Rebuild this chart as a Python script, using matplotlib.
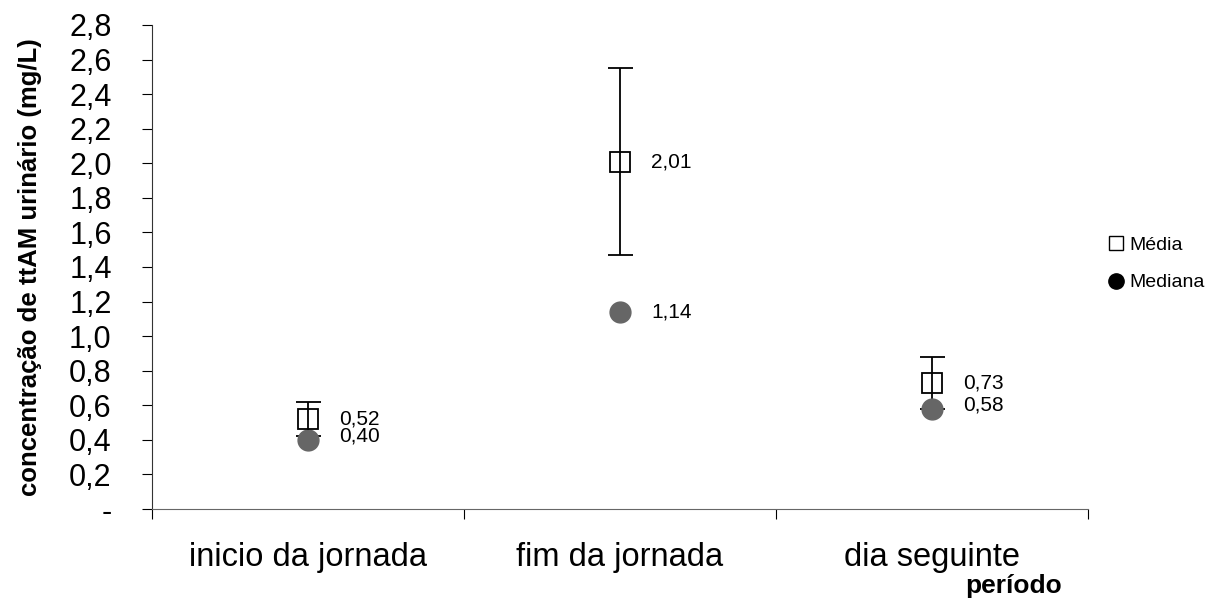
import matplotlib
matplotlib.use('Agg')
import matplotlib.pyplot as plt
from matplotlib.ticker import FixedLocator
from matplotlib.lines import Line2D

plt.rcParams['font.family'] = ['Liberation Sans', 'DejaVu Sans']

# data
periods = ["inicio da jornada", "fim da jornada", "dia seguinte"]
media = [0.52, 2.01, 0.73]
media_err = [0.10, 0.54, 0.15]
mediana = [0.40, 1.14, 0.58]
yticks = [0, 0.2, 0.4, 0.6, 0.8, 1.0, 1.2, 1.4, 1.6, 1.8, 2.0, 2.2, 2.4, 2.6, 2.8]

fig = plt.figure(figsize=(12.31, 5.98), dpi=100)
ax = fig.add_axes([152/1231, 1-509/598, (1088-152)/1231, (509-25)/598])

x = [0.5, 1.5, 2.5]
ax.errorbar(x, media, yerr=media_err, fmt='none', ecolor='black', elinewidth=1.3,
            capsize=9, capthick=1.3, zorder=2)
ax.plot(x, mediana, 'o', color='#666666', markersize=15, linestyle='none', zorder=3)
ax.plot(x, media, 's', markerfacecolor='none', markeredgecolor='black',
        markersize=14, markeredgewidth=1.3, linestyle='none', zorder=4)

for xi, v in zip(x, media):
    ax.text(xi + 0.1, v, ("%.2f" % v).replace('.', ','), fontsize=15,
            va='center', ha='left')
for xi, v in zip(x, mediana):
    ax.text(xi + 0.1, v + (0.02 if v < 1 else 0), ("%.2f" % v).replace('.', ','),
            fontsize=15, va='center', ha='left')

ax.set_xlim(0, 3)
ax.set_ylim(0, 2.8)
ax.set_yticks(yticks)
ax.set_yticklabels(['-'] + [("%.1f" % t).replace('.', ',') for t in yticks[1:]],
                   fontsize=22)
ax.xaxis.set_major_locator(FixedLocator([0, 1, 2, 3]))
ax.set_xticklabels([])
ax.xaxis.set_minor_locator(FixedLocator(x))
ax.set_xticklabels(periods, minor=True, fontsize=23.5)
ax.tick_params(axis='x', which='minor', length=0, pad=24)
ax.tick_params(axis='x', which='major', length=7, width=0.8, direction='out')
ax.tick_params(axis='y', length=7, width=0.8, pad=22)

for s in ['top', 'right']:
    ax.spines[s].set_visible(False)
ax.spines['left'].set_color('#333333')
ax.spines['bottom'].set_color('#666666')

ax.set_ylabel("concentração de ttAM urinário (mg/L)", fontsize=18.5,
              fontweight='bold')
ax.yaxis.set_label_coords(-(152-42)/936, 0.5)
fig.text(1014/1231, 1-586/598, "período", fontsize=19, fontweight='bold',
         ha='center', va='center')

h_media = Line2D([], [], marker='s', linestyle='none', markerfacecolor='white',
                 markeredgecolor='black', markersize=10)
h_med = Line2D([], [], marker='o', linestyle='none', color='black', markersize=11)
fig.legend([h_media, h_med], ['Média', 'Mediana'], loc='center left',
           bbox_to_anchor=(1087/1231, 1-264/598), frameon=False, fontsize=14,
           handletextpad=0.1, labelspacing=1.0, handlelength=1.2)

fig.savefig('out.png', dpi=100)
